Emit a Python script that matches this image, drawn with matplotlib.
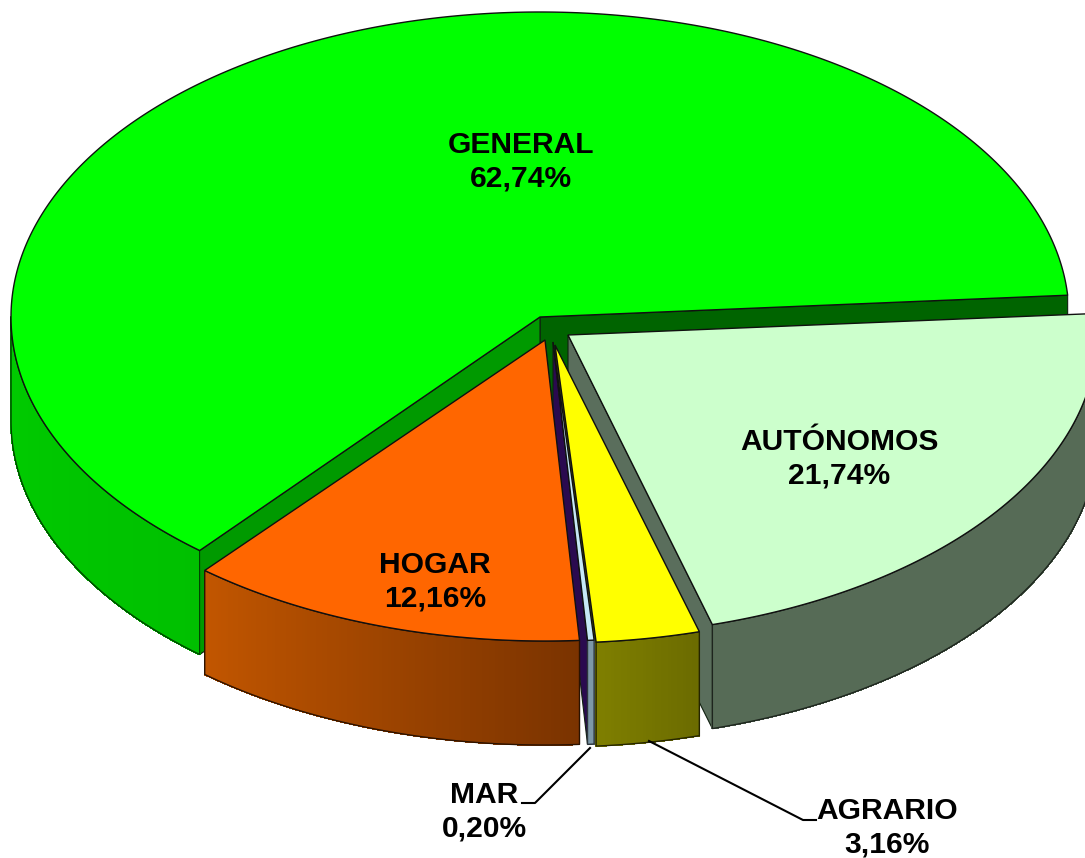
import matplotlib
matplotlib.use('Agg')
import matplotlib.pyplot as plt
from matplotlib.collections import PolyCollection
from matplotlib.colors import to_rgb
from matplotlib.patches import Polygon
import numpy as np

# values
labels = ['GENERAL', 'HOGAR', 'MAR', 'AGRARIO', 'AUTÓNOMOS']
shares = [62.74, 12.16, 0.20, 3.16, 21.74]
share_text = ['62,74%', '12,16%', '0,20%', '3,16%', '21,74%']

# slice styles and layout, in image pixels
start_angle = 4.1
centers = [(540, 317), (545, 340), (553, 342), (555, 345), (568, 335)]
radius_x = 529
radius_y = [305, 301, 299, 298, 301]
depth = 104
top_colors = ['#00ff00', '#ff6600', '#c6e8f6', '#ffff00', '#ccffcc']
side_left = ['#00cc00', '#c25600', '#7d98a8', '#7f7f00', '#566b56']
side_right = ['#00c000', '#7a3300', '#7d98a8', '#6b6b00', '#566b56']
cut_colors = ['#009a00', None, '#2a0a4f', '#5c5c00', '#5a6e5c']
text_pos = [(521, 162), (435, 582), (484, 812), (887, 828), (839, 459)]

fig = plt.figure(figsize=(10.85, 8.58), dpi=100)
ax = fig.add_axes([0, 0, 1, 1])
ax.set_xlim(0, 1085)
ax.set_ylim(858, 0)
ax.axis('off')

# angle range of each slice, going counterclockwise
ends = start_angle + np.cumsum(shares) * 3.6
starts = np.concatenate([[start_angle], ends[:-1]])


def rim(i, a, b):
    t = np.radians(np.linspace(a, b, max(int(abs(b - a) * 3), 3)))
    cx, cy = centers[i]
    return np.column_stack([cx + radius_x * np.cos(t), cy - radius_y[i] * np.sin(t)])


def draw_cut(i, angle, color):
    # flat cut face between the apex and the rim
    apex = np.array(centers[i], dtype=float)
    edge = rim(i, angle, angle)[0]
    down = np.array([0, depth])
    ax.add_patch(Polygon([apex, edge, edge + down, apex + down], closed=True,
                         facecolor=color, edgecolor='#102010', linewidth=0.8))


def draw_side(i):
    # outer wall, only the part turned to the viewer
    a = max(starts[i], 180)
    b = min(ends[i], 360)
    pts = rim(i, a, b)
    lo = np.array(to_rgb(side_left[i]))
    hi = np.array(to_rgb(side_right[i]))
    quads = []
    cols = []
    for k in range(len(pts) - 1):
        p, q = pts[k], pts[k + 1]
        quads.append([p, q, q + [0, depth], p + [0, depth]])
        cols.append(lo + (hi - lo) * k / (len(pts) - 1))
    ax.add_collection(PolyCollection(quads, facecolors=cols, edgecolors=cols,
                                     linewidths=0.6, antialiaseds=False))
    outline = np.vstack([pts, pts[::-1] + [0, depth]])
    dark = hi * 0.35
    ax.add_patch(Polygon(outline, closed=True, fill=False, edgecolor=dark, linewidth=1.0))


def draw_top(i):
    pts = np.vstack([[centers[i]], rim(i, starts[i], ends[i])])
    ax.add_patch(Polygon(pts, closed=True, facecolor=top_colors[i],
                         edgecolor='#101010', linewidth=1.0))


# back to front
draw_cut(0, starts[0], '#006400')
draw_cut(0, ends[0], cut_colors[0])
draw_cut(4, starts[4], cut_colors[4])
draw_side(4)
draw_top(4)
draw_cut(3, starts[3], cut_colors[3])
draw_side(3)
draw_top(3)
draw_cut(2, starts[2], cut_colors[2])
draw_side(2)
draw_top(2)
draw_side(1)
draw_top(1)
draw_side(0)
draw_top(0)

# leader lines for the two small slices
ax.plot([590, 535, 522], [748, 803, 803], color='black', linewidth=1.5)
ax.plot([649, 803, 816], [741, 820, 820], color='black', linewidth=1.5)

for name, pct, (x, y) in zip(labels, share_text, text_pos):
    ax.text(x, y, name + '\n' + pct, ha='center', va='center', color='black',
            family='Liberation Sans', fontweight='bold', fontsize=21.6, linespacing=1.26)

fig.savefig('out.png', dpi=100)
